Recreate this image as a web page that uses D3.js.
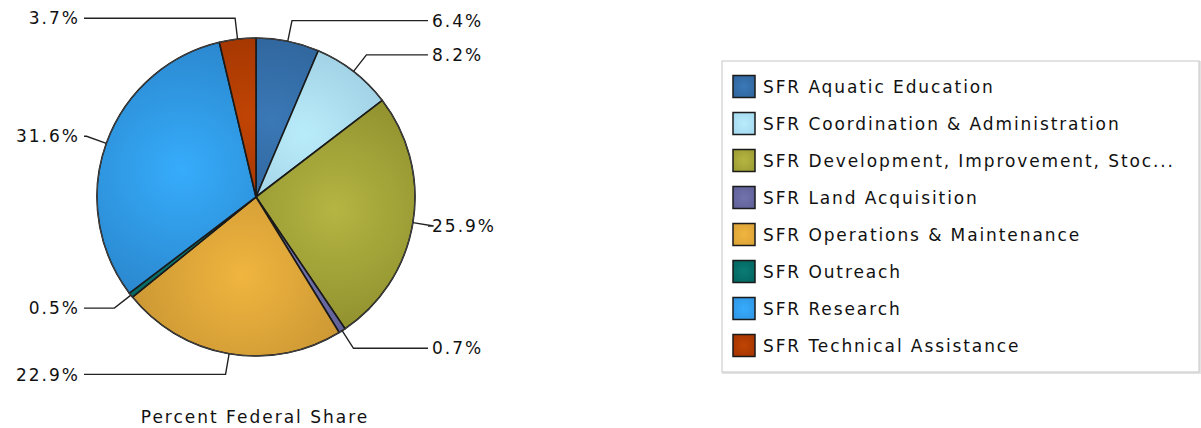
<!DOCTYPE html>
<html>
<head>
<meta charset="utf-8">
<script src="https://cdn.jsdelivr.net/npm/d3@7"></script>
<style>
  html, body { margin: 0; padding: 0; background: #fff; }
  svg { display: block; }
  text { font-family: "DejaVu Sans", Verdana, sans-serif; fill: #111; }
</style>
</head>
<body>
<svg id="chart" width="1201" height="428"></svg>
<script>
// ---- data ----
const categories = [
  "SFR Aquatic Education",
  "SFR Coordination & Administration",
  "SFR Development, Improvement, Stoc...",
  "SFR Land Acquisition",
  "SFR Operations & Maintenance",
  "SFR Outreach",
  "SFR Research",
  "SFR Technical Assistance"
];
const values = [6.4, 8.2, 25.9, 0.7, 22.9, 0.5, 31.6, 3.7];
const valueLabels = ["6.4%", "8.2%", "25.9%", "0.7%", "22.9%", "0.5%", "31.6%", "3.7%"];
const baseColors = ["#2f649c", "#a2d6ee", "#9a9b30", "#5f5f98", "#d9a036", "#03625d", "#2f94e2", "#a23300"];
const lightColors = ["#3a78b6", "#b9ecfb", "#b4b542", "#7272ac", "#f0b53f", "#0a7c75", "#36acfb", "#c04404"];
const title = "Percent Federal Share";

// ---- layout ----
const svg = d3.select("#chart");
const cx = 256, cy = 197, r = 159;
const labelR = r + 21;

const data = categories.map((c, i) => ({ name: c, value: values[i], label: valueLabels[i], i }));

const pie = d3.pie().sort(null).value(d => d.value);
const arcs = pie(data);
const arc = d3.arc().innerRadius(0).outerRadius(r);
const color = d3.scaleOrdinal().domain(categories).range(baseColors);
const light = d3.scaleOrdinal().domain(categories).range(lightColors);

const defs = svg.append("defs");
arcs.forEach((a, i) => {
  const c = arc.centroid(a);
  const g = defs.append("radialGradient")
    .attr("id", "g" + i)
    .attr("gradientUnits", "userSpaceOnUse")
    .attr("cx", c[0]).attr("cy", c[1])
    .attr("r", r * 0.9);
  g.append("stop").attr("offset", "0%").attr("stop-color", light(a.data.name));
  g.append("stop").attr("offset", "100%").attr("stop-color", d3.color(color(a.data.name)).darker(0.3));
});
// legend gradients
categories.forEach((c, i) => {
  const g = defs.append("radialGradient").attr("id", "lg" + i).attr("cx", "50%").attr("cy", "50%").attr("r", "70%");
  g.append("stop").attr("offset", "0%").attr("stop-color", light(c));
  g.append("stop").attr("offset", "100%").attr("stop-color", color(c));
});

const pg = svg.append("g").attr("transform", `translate(${cx},${cy})`);
pg.selectAll("path.slice").data(arcs).join("path")
  .attr("class", "slice")
  .attr("d", arc)
  .attr("fill", (d, i) => `url(#g${i})`)
  .attr("stroke", "#1a1a1a")
  .attr("stroke-width", 1.6)
  .attr("stroke-linejoin", "round");

// outer rim
pg.append("circle").attr("r", r).attr("fill", "none").attr("stroke", "#444").attr("stroke-width", 1);

// ---- labels with leader lines ----
const lg = pg.append("g");
arcs.forEach(a => {
  const mid = (a.startAngle + a.endAngle) / 2;
  const sx = Math.sin(mid), sy = -Math.cos(mid);
  const right = sx >= 0;
  const p0 = [r * sx, r * sy];
  const p1 = [labelR * sx, labelR * sy];
  const xEnd = (right ? 1 : -1) * (r + 13);
  lg.append("polyline")
    .attr("points", [p0, p1, [xEnd, p1[1]]].map(p => p.join(",")).join(" "))
    .attr("fill", "none").attr("stroke", "#222").attr("stroke-width", 1.4);
  lg.append("text")
    .attr("x", (right ? 1 : -1) * (r + 17))
    .attr("y", p1[1])
    .attr("dy", "0.36em")
    .attr("text-anchor", right ? "start" : "end")
    .style("font-size", "17px")
    .style("letter-spacing", "2px")
    .text(a.data.label);
});

// ---- title ----
svg.append("text")
  .attr("x", cx - 1).attr("y", 417)
  .attr("dy", "0.36em")
  .attr("text-anchor", "middle")
  .style("font-size", "17px")
  .style("letter-spacing", "2px")
  .text(title);

// ---- legend ----
const legX = 722, legY = 61, legW = 477, legH = 311;
const leg = svg.append("g");
leg.append("rect")
  .attr("x", legX + 1).attr("y", legY + 1).attr("width", legW).attr("height", legH)
  .attr("fill", "none").attr("stroke", "#e4e4e4").attr("stroke-width", 2);
leg.append("rect")
  .attr("x", legX).attr("y", legY).attr("width", legW).attr("height", legH)
  .attr("fill", "#fff").attr("stroke", "#cfcfcf").attr("stroke-width", 1.2);

const rowY = d3.scaleBand().domain(categories).range([legY + 7, legY + 7 + 37 * categories.length]).paddingInner(0);
const items = leg.selectAll("g.item").data(categories).join("g")
  .attr("class", "item")
  .attr("transform", d => `translate(${legX + 11},${rowY(d) + rowY.bandwidth() / 2})`);
items.append("rect")
  .attr("x", 0).attr("y", -11).attr("width", 22).attr("height", 22)
  .attr("fill", (d, i) => `url(#lg${i})`)
  .attr("stroke", "#1a1a1a").attr("stroke-width", 1.5);
items.append("text")
  .attr("x", 30).attr("y", 0).attr("dy", "0.36em")
  .style("font-size", "17px")
  .style("letter-spacing", "1.9px")
  .text(d => d);
</script>
</body>
</html>
